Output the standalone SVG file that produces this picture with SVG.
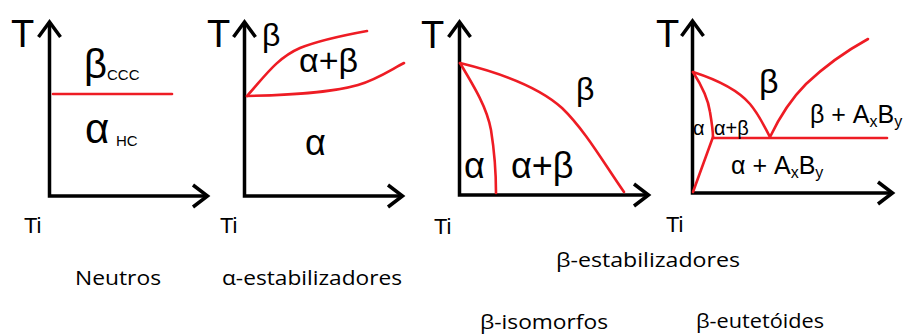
<svg xmlns="http://www.w3.org/2000/svg" width="913" height="336" viewBox="0 0 913 336">
<style>
.ax{stroke:#000;stroke-width:3.5;fill:none;stroke-linejoin:miter;stroke-linecap:butt}
.ah{stroke:#000;stroke-width:3.5;fill:none;stroke-linejoin:miter}
.ph{stroke:#ee1c24;stroke-width:2.6;fill:none;stroke-linecap:round}
.big{font-family:"Liberation Sans",Arial,sans-serif;fill:#000}
.lab{font-family:"Open Sans","Liberation Sans",sans-serif;font-size:20px;fill:#000}
</style>
<rect width="913" height="336" fill="#fff"/>

<g id="neutros">
  <path class="ax" d="M49.5,23 V196 H206"/>
  <polyline class="ah" points="38.5,37 49.5,22 60.5,37"/>
  <polyline class="ah" points="193,185 207.5,196 193,207"/>
  <path class="ph" d="M53,94 H172"/>
  <text class="big" x="11" y="47" font-size="38">T</text>
  <text class="big" x="84" y="78" font-size="40">β</text>
  <text class="big" x="107" y="80" font-size="15">CCC</text>
  <text class="big" x="85" y="143" font-size="42">α</text>
  <text class="big" x="116" y="146" font-size="15">HC</text>
  <text class="big" x="24" y="233" font-size="22">Ti</text>
</g>

<g id="alfa-estabilizadores">
  <path class="ax" d="M244.5,23 V196 H401"/>
  <polyline class="ah" points="233.5,37 244.5,22 255.5,37"/>
  <polyline class="ah" points="388,185 402.5,196 388,207"/>
  <path class="ph" d="M247,96 C265,76 277,58 300,48 C320,40 345,35 367,31"/>
  <path class="ph" d="M247,96 C290,95 330,93 358,85 C378,79 392,69 404,63"/>
  <text class="big" x="207" y="47" font-size="38">T</text>
  <text class="big" x="262" y="46" font-size="32">β</text>
  <text class="big" x="299" y="72" font-size="34">α+β</text>
  <text class="big" x="305" y="155" font-size="36">α</text>
  <text class="big" x="220" y="233" font-size="22">Ti</text>
</g>

<g id="beta-isomorfos">
  <path class="ax" d="M459.5,23 V195 H647"/>
  <polyline class="ah" points="448.5,37 459.5,22 470.5,37"/>
  <polyline class="ah" points="634,184 648.5,195 634,206"/>
  <path class="ph" d="M460,63 C475,88 487,108 491,130 C495,155 496,175 496,193"/>
  <path class="ph" d="M460,63 C505,74 540,88 562,108 C585,130 605,165 624,192"/>
  <text class="big" x="421" y="48" font-size="38">T</text>
  <text class="big" x="576" y="100" font-size="32">β</text>
  <text class="big" x="464" y="178" font-size="36">α</text>
  <text class="big" x="511" y="178" font-size="36">α+β</text>
  <text class="big" x="434" y="234" font-size="22">Ti</text>
</g>

<g id="beta-eutetoides">
  <path class="ax" d="M692.5,22 V193 H891"/>
  <polyline class="ah" points="681.5,36 692.5,21 703.5,36"/>
  <polyline class="ah" points="878,182 892.5,193 878,204"/>
  <path class="ph" d="M693,72 C702,86 708,98 710,112 C712,124 713,132 713,137"/>
  <path class="ph" d="M713,137 L693,192"/>
  <path class="ph" d="M693,72 C718,80 738,90 750,104 C760,116 765,128 770,137"/>
  <path class="ph" d="M713,138 H887"/>
  <path class="ph" d="M770,137 C780,116 790,100 806,84 C825,66 848,50 868,39"/>
  <text class="big" x="656" y="47" font-size="38">T</text>
  <text class="big" x="759" y="93" font-size="34">β</text>
  <text class="big" x="693" y="135" font-size="20">α</text>
  <text class="big" x="714" y="135" font-size="20">α+β</text>
  <text class="big" x="810" y="123" font-size="25">β + A<tspan font-size="16" dy="4">x</tspan><tspan dy="-4">B</tspan><tspan font-size="16" dy="4">y</tspan></text>
  <text class="big" x="731" y="174" font-size="25">α + A<tspan font-size="16" dy="4">x</tspan><tspan dy="-4">B</tspan><tspan font-size="16" dy="4">y</tspan></text>
  <text class="big" x="666" y="232" font-size="22">Ti</text>
</g>

<g id="labels">
  <text class="lab" x="75" y="285" textLength="86" lengthAdjust="spacingAndGlyphs">Neutros</text>
  <text class="lab" x="222" y="285" textLength="180" lengthAdjust="spacingAndGlyphs">α-estabilizadores</text>
  <text class="lab" x="556" y="267" textLength="184" lengthAdjust="spacingAndGlyphs">β-estabilizadores</text>
  <text class="lab" x="480" y="329" textLength="128" lengthAdjust="spacingAndGlyphs">β-isomorfos</text>
  <text class="lab" x="696" y="328" textLength="128" lengthAdjust="spacingAndGlyphs">β-eutetóides</text>
</g>
</svg>
